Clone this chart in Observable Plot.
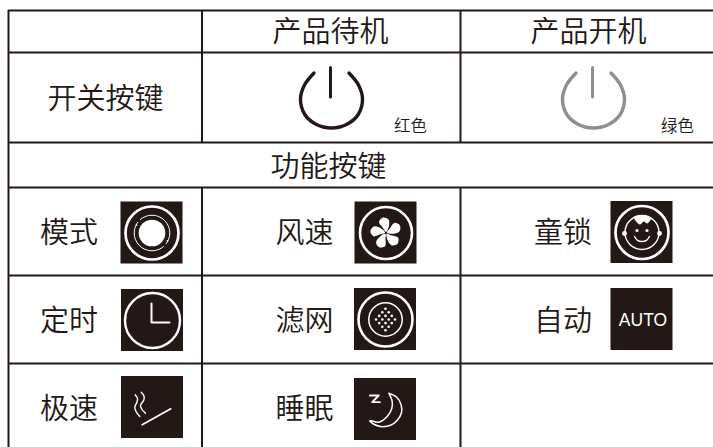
<!DOCTYPE html>
<html>
<head>
<meta charset="utf-8">
<style>html,body{margin:0;padding:0;background:#fff}svg{display:block}</style>
<script src="https://cdn.jsdelivr.net/npm/d3@7"></script>
<script src="https://cdn.jsdelivr.net/npm/@observablehq/plot@0.6"></script>
</head>
<body>
<div id="chart"></div>
<script>
// table text
const headers = ["产品待机", "产品开机"];
const sectionPower = "开关按键";
const sectionFunc = "功能按键";
const powerStates = ["红色", "绿色"];
const funcLabels = ["模式", "风速", "童锁", "定时", "滤网", "自动", "极速", "睡眠"];
const autoLabel = "AUTO";

// table rules
const hLines = [10, 52, 142, 187, 275, 363];
const vLines = [8, 201.5, 460];

// label anchors
const headerX = [330, 588];
const funcX = [68.5, 304, 562.5];
const funcY = [233, 321, 409];
const iconCells = [
  [151.5,232.5],[385.5,232.5],[641.5,232],
  [152,320],[385,319],[641.5,319],
  [152,407],[385,409]
];

// glyph outlines (relative to each glyph's centre)
const powerArc = [[-17.5,-26],[-27,-14],[-31,0],[-27,15],[-16,25],[0,29],[16,25],[27,15],[31,0],[27,-14],[17.5,-26]];
const bladeOutline = [[0,-1],[-3,-5],[-7,-11],[-3,-15.5],[2.5,-13.5],[3,-7]];
const bladeTurns = [0,1,2,3,4];
const filterRows = [
  [-10.8,[0]],[-7.2,[-3.2,3.2]],[-3.6,[-6.3,0,6.3]],[0,[-9.5,-3.2,3.2,9.5]],
  [3.6,[-6.3,0,6.3]],[7.2,[-3.2,3.2]],[10.8,[0]]
];
const hair = [[-8,-15.5],[-4,-17],[4,-17],[9,-14],[5,-9],[2,-11],[-2,-8],[-5,-10]];
const smile = [[-7.5,4],[-4.5,7.8],[0,9],[4.5,7.8],[7.5,4]];
const smokeA = [[-17.3,-12.7],[-15,-9],[-15.5,-5.5],[-17.7,-0.3],[-16.5,4],[-12.7,9]];
const smokeB = [[-11.3,-15.3],[-8.5,-11.5],[-8.7,-7.5],[-12,-2],[-10.5,2],[-7,5.7]];
const stick = [[-10.3,17.3],[18.3,1.3]];
const moon = [[3.3,-16.3],[11,-12.5],[15.5,-5],[16,3],[12,10.5],[5,15.8],[-5,17],[-12,14.5],[-15.7,11],[-6.7,12.7],[1.7,7],[6.3,-1],[6.7,-8],[3.3,-16.3]];
const zee = [[-15.7,-14],[-6.7,-14],[-13.3,-7.3],[-5.7,-7.3]];

const INK = "#231815", GREY = "#8f8f8f", CJK = "Noto Sans CJK SC";

const at = (c, pts, z) => pts.map(p => ({x: c[0] + p[0], y: c[1] + p[1], z}));
const turn = (pts, k) => pts.map(([x, y]) => {
  const a = k * 2 * Math.PI / 5, c = Math.cos(a), s = Math.sin(a);
  return [x * c - y * s, x * s + y * c];
});
const line = (c, pts, o) => Plot.line(at(c, pts), {x: "x", y: "y", ...o});
const ring = (c, r, w, stroke = "white") =>
  Plot.dot([c], {x: d => d[0], y: d => d[1], r, stroke, strokeWidth: w, fill: "none"});
const disc = (c, r, fill = "white") =>
  Plot.dot([c], {x: d => d[0], y: d => d[1], r, fill, stroke: "none"});
const label = (x, y, text, size, o = {}) =>
  Plot.text([text], {x: () => x, y: () => y, text: d => d, fontSize: size, fontFamily: CJK,
                     fontWeight: 350, fill: INK, lineAnchor: "middle", textAnchor: "middle", ...o});

const [cMode, cFan, cFace, cClock, cFilter, cAuto, cSmoke, cMoon] = iconCells;
const half = 31;
const marks = [];

// table grid
marks.push(Plot.ruleY(hLines, {x1: vLines[0], x2: 713, y: d => d, stroke: INK, strokeWidth: 2}));
marks.push(Plot.ruleX([vLines[0]], {x: d => d, y1: hLines[0], y2: 447, stroke: INK, strokeWidth: 2}));
for (const x of vLines.slice(1)) {
  marks.push(Plot.ruleX([x], {x: d => d, y1: hLines[0], y2: hLines[2], stroke: INK, strokeWidth: 2}));
  marks.push(Plot.ruleX([x], {x: d => d, y1: hLines[3], y2: 447, stroke: INK, strokeWidth: 2}));
}

// text
headers.forEach((t, i) => marks.push(label(headerX[i], 32, t, 29)));
marks.push(label(105, 99, sectionPower, 29));
marks.push(label(328, 167.5, sectionFunc, 29));
marks.push(label(410, 126.5, powerStates[0], 16.5));
marks.push(label(677, 126.5, powerStates[1], 16.5));
funcLabels.forEach((t, i) => marks.push(label(funcX[i % 3], funcY[Math.floor(i / 3)], t, 29)));

// power glyphs
[[331, 98.5, INK], [593, 98.5, GREY]].forEach(([cx, cy, stroke]) => {
  marks.push(line([cx, cy], powerArc, {stroke, strokeWidth: 3.4, curve: "catmull-rom"}));
  marks.push(line([cx, cy], [[-1, -31.5], [-1, -2]], {stroke, strokeWidth: 3}));
});

// icon tiles
marks.push(Plot.rect(iconCells, {
  x1: d => d[0] - half, x2: d => d[0] + half,
  y1: d => d[1] - half, y2: d => d[1] + half,
  fill: INK
}));

// mode
marks.push(ring(cMode, 26.5, 2.7), disc(cMode, 13.3), ring(cMode, 17.8, 1));
marks.push(disc([cMode[0] - 13, cMode[1] - 12.5], 1.6, INK), disc([cMode[0] + 13, cMode[1] + 12.5], 1.6, INK));
marks.push(disc([cMode[0] - 15.5, cMode[1] - 8], 0.9), disc([cMode[0] + 15.5, cMode[1] + 8], 0.9));

// fan
marks.push(ring(cFan, 26, 2.6));
bladeTurns.forEach(k => marks.push(line(cFan, turn(bladeOutline, k),
  {fill: "white", stroke: "none", curve: "catmull-rom-closed"})));

// face
marks.push(ring(cFace, 26.5, 2.7), ring([cFace[0], cFace[1]], 17, 1.4));
marks.push(line(cFace, hair, {fill: "white", stroke: "none", curve: "catmull-rom-closed"}));
marks.push(disc([cFace[0] - 17.5, cFace[1] + 1], 2.4), disc([cFace[0] + 17.5, cFace[1] + 1], 2.4));
marks.push(disc([cFace[0] - 5, cFace[1] - 2], 1.6), disc([cFace[0] + 5, cFace[1] - 2], 1.6));
marks.push(line(cFace, smile, {stroke: "white", strokeWidth: 1.4, curve: "catmull-rom"}));

// clock
marks.push(ring(cClock, 27.5, 2.4));
marks.push(line(cClock, [[-1, -17], [-1, 2], [17, 2]], {stroke: "white", strokeWidth: 2}));

// filter
marks.push(ring(cFilter, 27, 2.6), ring(cFilter, 16.7, 1.5));
const filterDots = filterRows.flatMap(([dy, xs]) => xs.map(dx => [dx, dy]));
marks.push(Plot.dot(at(cFilter, filterDots), {x: "x", y: "y", r: 1.3, fill: "white", stroke: "none"}));

// auto
marks.push(Plot.text([autoLabel], {x: () => cAuto[0] + 1, y: () => cAuto[1] + 0.5, text: d => d,
  fontSize: 17.5, fontFamily: "Liberation Sans", fill: "white", lineAnchor: "middle", textAnchor: "middle"}));

// smoke
[smokeA, smokeB].forEach(s => marks.push(line(cSmoke, s, {stroke: "white", strokeWidth: 1.4, curve: "catmull-rom"})));
marks.push(line(cSmoke, stick, {stroke: "white", strokeWidth: 1.7}));

// moon
marks.push(line(cMoon, moon, {stroke: "white", strokeWidth: 1.5, fill: "none", curve: "catmull-rom"}));
marks.push(line(cMoon, zee, {stroke: "white", strokeWidth: 1.8, fill: "none"}));

const chart = Plot.plot({
  width: 713, height: 447, margin: 0,
  x: {domain: [0, 713], axis: null},
  y: {domain: [447, 0], axis: null},
  marks
});
document.getElementById("chart").appendChild(chart);
</script>
</body>
</html>
